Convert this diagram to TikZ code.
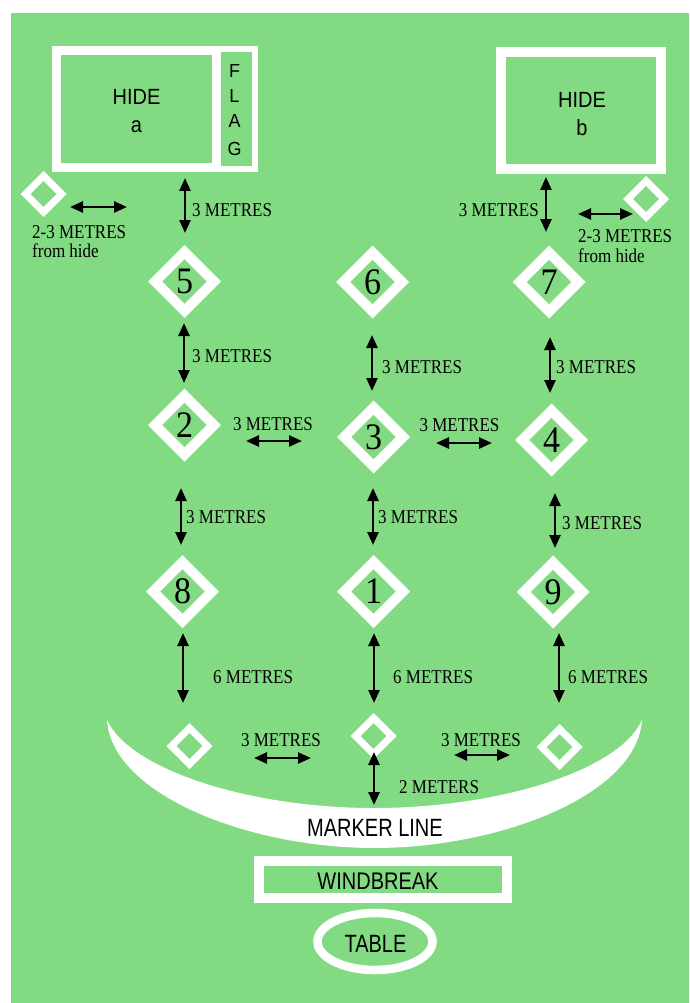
\documentclass[tikz,border=0pt]{standalone}
\usepackage{fontspec}
\usepackage{graphicx}
\setmainfont{Liberation Serif}
\newfontfamily\hsans{Liberation Sans}
\usetikzlibrary{shapes.geometric,arrows.meta}
\definecolor{field}{RGB}{130,219,130}
\newcommand{\ystr}[2]{\scalebox{1}[#1]{#2}}
\begin{document}
\begin{tikzpicture}[x=1pt,y=-1pt,
  bigd/.style={diamond, draw=white, line width=10pt, minimum width=63pt, minimum height=63pt, inner sep=0pt, font=\fontsize{34}{34}\selectfont},
  smalld/.style={diamond, draw=white, line width=7pt, minimum width=39pt, minimum height=39pt, inner sep=0pt},
  dim/.style={line width=2.5pt, {Triangle[width=11pt,length=13pt]}-{Triangle[width=11pt,length=13pt]}},
  lbl/.style={font=\fontsize{17}{17}\selectfont, inner sep=0pt},
  stxt/.style={font=\hsans\fontsize{20}{20}\selectfont, inner sep=0pt},
  wbox/.style={rectangle, draw=white, inner sep=0pt},
]
\useasboundingbox (0,0) rectangle (689,1003);
\fill[white] (0,0) rectangle (689,1003);
\fill[field] (11,13) rectangle (689,1003);

% hides
\node[wbox, line width=9pt, minimum width=160pt, minimum height=117pt] (hidea) at (136.5,109) {};
\node[wbox, line width=6pt, minimum width=37pt, minimum height=120pt] (flag) at (236.5,109) {};
\node[wbox, line width=10pt, minimum width=160pt, minimum height=117.5pt] (hideb) at (581,110.75) {};
\node[stxt, anchor=base] (hideat) at (136.5,105) {\ystr{1.1}{HIDE}};
\node[stxt, anchor=base] (hideal) at (136.5,133) {\ystr{1.1}{a}};
\node[stxt, anchor=base] (hidebt) at (582,108) {\ystr{1.1}{HIDE}};
\node[stxt, anchor=base] (hidebl) at (582,136) {\ystr{1.1}{b}};
\node[stxt, anchor=base, font=\hsans\fontsize{18}{18}\selectfont] (flagf) at (234.5,78) {\ystr{1.05}{F}};
\node[stxt, anchor=base, font=\hsans\fontsize{18}{18}\selectfont] (flagl) at (234.5,103) {\ystr{1.05}{L}};
\node[stxt, anchor=base, font=\hsans\fontsize{18}{18}\selectfont] (flaga) at (234.5,128) {\ystr{1.05}{A}};
\node[stxt, anchor=base, font=\hsans\fontsize{18}{18}\selectfont] (flagg) at (234.5,156) {\ystr{1.05}{G}};

% small diamonds
\node[smalld] (sa) at (43.5,194) {};
\node[smalld] (sb) at (646,199) {};
\node[smalld] (m1) at (189.5,746) {};
\node[smalld] (m2) at (373.6,736) {};
\node[smalld] (m3) at (559.6,747) {};

% big diamonds
\node[bigd] (d5) at (184.5,281.5) {\ystr{1.1}{5}};
\node[bigd] (d6) at (372.5,282) {\ystr{1.1}{6}};
\node[bigd] (d7) at (549,282) {\ystr{1.1}{7}};
\node[bigd] (d2) at (184.5,425) {\ystr{1.1}{2}};
\node[bigd] (d3) at (373.5,437) {\ystr{1.1}{3}};
\node[bigd] (d4) at (551.5,440) {\ystr{1.1}{4}};
\node[bigd] (d8) at (182.5,591.5) {\ystr{1.1}{8}};
\node[bigd] (d1) at (373.5,591.5) {\ystr{1.1}{1}};
\node[bigd] (d9) at (553,592) {\ystr{1.1}{9}};

% marker line crescent
\fill[white] (107,720) .. controls (112,795) and (250,848) .. (374,848)
  .. controls (500,848) and (637,795) .. (642,720)
  .. controls (620,770) and (500,808) .. (374,808)
  .. controls (250,808) and (130,770) .. (107,720) -- cycle;
\node[stxt, anchor=base] (marker) at (375,836) {\ystr{1.25}{MARKER LINE}};

% windbreak and table
\node[wbox, line width=10pt, minimum width=248pt, minimum height=37pt] (wind) at (383,879.5) {};
\node[stxt, anchor=base] (windt) at (378,889) {\ystr{1.2}{WINDBREAK}};
\node[ellipse, draw=white, line width=8.5pt, minimum width=115pt, minimum height=57pt, inner sep=0pt] (table) at (375,941.5) {};
\node[stxt, anchor=base] (tablet) at (375.5,952) {\ystr{1.25}{TABLE}};

% arrow end points
\coordinate (a5t) at (185,178);   \coordinate (a5b) at (185,233);
\coordinate (b7t) at (546,177);   \coordinate (b7b) at (546,232);
\coordinate (sal) at (70,207);    \coordinate (sar) at (127,207);
\coordinate (sbl) at (578,214);   \coordinate (sbr) at (633,214);
\coordinate (p52t) at (184,323);  \coordinate (p52b) at (184,383);
\coordinate (p63t) at (372,335);  \coordinate (p63b) at (372,391);
\coordinate (p74t) at (550,337);  \coordinate (p74b) at (550,393);
\coordinate (p23l) at (246,441);  \coordinate (p23r) at (302,441);
\coordinate (p34l) at (436,443);  \coordinate (p34r) at (492,443);
\coordinate (p28t) at (181,488);  \coordinate (p28b) at (181,545);
\coordinate (p31t) at (373,488);  \coordinate (p31b) at (373,545);
\coordinate (p49t) at (555,493);  \coordinate (p49b) at (555,548);
\coordinate (p8mt) at (183,633);  \coordinate (p8mb) at (183,703);
\coordinate (p1mt) at (374,633);  \coordinate (p1mb) at (374,703);
\coordinate (p9mt) at (559,633);  \coordinate (p9mb) at (559,703);
\coordinate (q12l) at (254,758);  \coordinate (q12r) at (311,758);
\coordinate (q23l) at (454,755);  \coordinate (q23r) at (510,755);
\coordinate (mkt) at (374,752);   \coordinate (mkb) at (374,805);

\draw[dim] (a5t) -- (a5b);
\draw[dim] (b7t) -- (b7b);
\draw[dim] (sal) -- (sar);
\draw[dim] (sbl) -- (sbr);
\draw[dim] (p52t) -- (p52b);
\draw[dim] (p63t) -- (p63b);
\draw[dim] (p74t) -- (p74b);
\draw[dim] (p23l) -- (p23r);
\draw[dim] (p34l) -- (p34r);
\draw[dim] (p28t) -- (p28b);
\draw[dim] (p31t) -- (p31b);
\draw[dim] (p49t) -- (p49b);
\draw[dim] (p8mt) -- (p8mb);
\draw[dim] (p1mt) -- (p1mb);
\draw[dim] (p9mt) -- (p9mb);
\draw[dim] (q12l) -- (q12r);
\draw[dim] (q23l) -- (q23r);
\draw[dim] (mkt) -- (mkb);

% labels
\node[lbl, anchor=west] (la5) at (192,210) {\ystr{1.15}{3 METRES}};
\node[lbl, anchor=east] (lb7) at (539,210) {\ystr{1.15}{3 METRES}};
\node[lbl, anchor=base west] (lsa1) at (32,238) {\ystr{1.15}{2-3 METRES}};
\node[lbl, anchor=base west] (lsa2) at (32,257) {\ystr{1.15}{from hide}};
\node[lbl, anchor=base west] (lsb1) at (578,242) {\ystr{1.15}{2-3 METRES}};
\node[lbl, anchor=base west] (lsb2) at (578,262) {\ystr{1.15}{from hide}};
\node[lbl, anchor=west] (l52) at (192,356) {\ystr{1.15}{3 METRES}};
\node[lbl, anchor=west] (l63) at (382,367) {\ystr{1.15}{3 METRES}};
\node[lbl, anchor=west] (l74) at (556,367) {\ystr{1.15}{3 METRES}};
\node[lbl] (l23) at (273,424) {\ystr{1.15}{3 METRES}};
\node[lbl] (l34) at (459.5,425) {\ystr{1.15}{3 METRES}};
\node[lbl, anchor=west] (l28) at (186,517) {\ystr{1.15}{3 METRES}};
\node[lbl, anchor=west] (l31) at (378,517) {\ystr{1.15}{3 METRES}};
\node[lbl, anchor=west] (l49) at (562,523) {\ystr{1.15}{3 METRES}};
\node[lbl, anchor=west] (l8m) at (213,677) {\ystr{1.15}{6 METRES}};
\node[lbl, anchor=west] (l1m) at (393,677) {\ystr{1.15}{6 METRES}};
\node[lbl, anchor=west] (l9m) at (568,677) {\ystr{1.15}{6 METRES}};
\node[lbl] (lq12) at (281,740) {\ystr{1.15}{3 METRES}};
\node[lbl] (lq23) at (481,740) {\ystr{1.15}{3 METRES}};
\node[lbl, anchor=west] (lmk) at (399,787) {\ystr{1.15}{2 METERS}};
\end{tikzpicture}
\end{document}
